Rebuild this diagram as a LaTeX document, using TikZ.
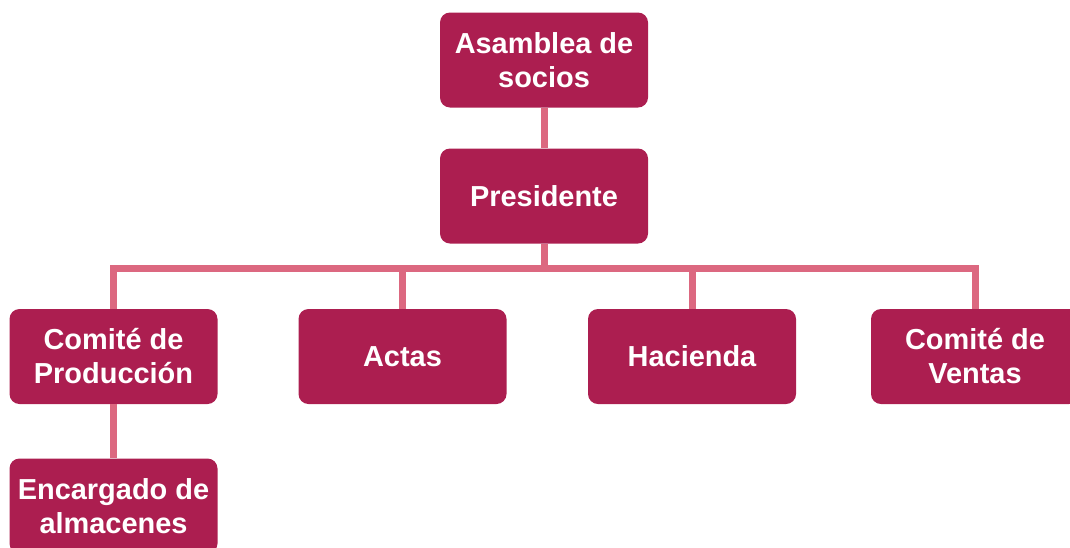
\documentclass[tikz,border=0pt]{standalone}
\usepackage{fontspec}
\setmainfont{Liberation Sans}
\definecolor{boxred}{RGB}{172,30,80}
\definecolor{linkpink}{RGB}{220,104,128}
\tikzset{
  orgbox/.style={fill=boxred, text=white, rounded corners=7.5pt, align=center,
    minimum width=156pt, minimum height=71.25pt, inner sep=0pt,
    font=\fontsize{21.7}{25.5}\selectfont\bfseries},
  link/.style={linkpink, line width=5.25pt}
}
\begin{document}
\begin{tikzpicture}[x=0.75pt, y=-0.75pt]
  % Frame
  \useasboundingbox (0,0) rectangle (1070,547);
  \clip (0,0) rectangle (1070,547);

  % Boxes
  \node[orgbox] (asam) at (544, 60) {Asamblea de\\socios};
  \node[orgbox] (pres) at (544, 196) {Presidente};
  \node[orgbox] (prod) at (113.5, 356.5) {Comité de\\Producción};
  \node[orgbox] (actas) at (402.5, 356.5) {Actas};
  \node[orgbox] (hac) at (692, 356.5) {Hacienda};
  \node[orgbox] (ventas) at (975, 356.5) {Comité de\\Ventas};
  \node[orgbox] (alm) at (113.5, 506) {Encargado de\\almacenes};

  % Connectors
  \coordinate (bus) at (544, 268);
  \draw[link] (asam.south) -- (pres.north);
  \draw[link] (pres.south) -- (bus);
  \foreach \n in {prod, actas, hac, ventas}
    \draw[link] (bus) -| (\n.north);
  \draw[link] (prod.south) -- (alm.north);
\end{tikzpicture}
\end{document}
